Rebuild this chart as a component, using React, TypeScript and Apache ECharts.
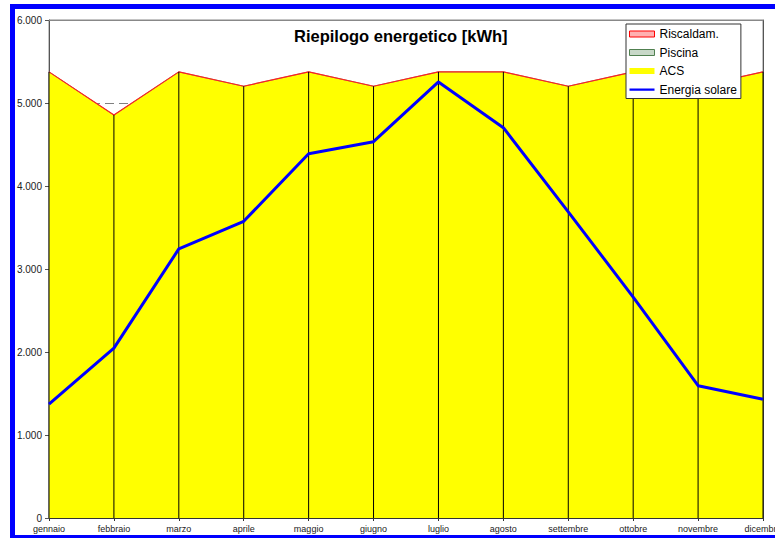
import React, { useEffect, useRef } from "react";
import * as echarts from "echarts";

const months = ["gennaio", "febbraio", "marzo", "aprile", "maggio", "giugno", "luglio", "agosto", "settembre", "ottobre", "novembre", "dicembre"];
const acs = [5375, 4855, 5375, 5202, 5375, 5202, 5375, 5375, 5202, 5375, 5202, 5375];
const piscina = [0, 0, 0, 0, 0, 0, 0, 0, 0, 0, 0, 0];
const riscaldam = [0, 0, 0, 0, 0, 0, 0, 0, 0, 0, 0, 0];
const energiaSolare = [1373, 2046, 3242, 3575, 4389, 4534, 5254, 4703, 3688, 2662, 1594, 1430];
const yTicks = { min: 0, max: 6000, interval: 1000 };

const FONT = "'Liberation Sans', Arial, sans-serif";

export default function App() {
  const ref = useRef<HTMLDivElement>(null);
  useEffect(() => {
    if (!ref.current) return;
    const chart = echarts.init(ref.current, undefined, { renderer: "svg" });
    const totals = acs.map((v, i) => v + piscina[i] + riscaldam[i]);
    chart.setOption({
      animation: false,
      backgroundColor: "#ffffff",
      textStyle: { fontFamily: FONT },
      title: {
        text: "Riepilogo energetico [kWh]",
        left: 294,
        top: 27,
        padding: 0,
        textStyle: { fontFamily: FONT, fontSize: 16.5, fontWeight: "bold", color: "#000" },
      },
      legend: {
        orient: "vertical",
        left: 626,
        top: 24,
        padding: [3, 4, 2, 3],
        itemGap: 4.5,
        itemWidth: 25,
        itemHeight: 6,
        backgroundColor: "#ffffff",
        borderColor: "#333333",
        borderWidth: 1,
        z: 10,
        textStyle: { fontFamily: FONT, fontSize: 12, color: "#000", lineHeight: 14 },
        data: [
          { name: "Riscaldam.", icon: "rect", itemStyle: { color: "#FFB0B0", borderColor: "#FF0000", borderWidth: 1 } },
          { name: "Piscina", icon: "rect", itemStyle: { color: "#C8D8C8", borderColor: "#508050", borderWidth: 1 } },
          { name: "ACS", icon: "rect", itemStyle: { color: "#FFFF00", borderColor: "#FFFF00", borderWidth: 0 } },
          {
            name: "Energia solare",
            icon: "path://M0,0 L0.01,0 L0.01,0.01 Z M0,2 L25,2 L25,4.3 L0,4.3 Z M25,6 L24.99,6 L24.99,5.99 Z",
            itemStyle: { color: "#0000FF", borderWidth: 0 },
          },
        ],
      },
      grid: {
        left: 49,
        top: 20,
        width: 714,
        height: 498,
        show: true,
        containLabel: false,
        outerBoundsMode: "none",
        backgroundColor: "#ffffff",
        borderColor: "#888888",
        borderWidth: 1,
      },
      xAxis: [
        {
          type: "category",
          data: months,
          boundaryGap: false,
          axisLine: { lineStyle: { color: "#333333", width: 1 } },
          axisTick: { show: true, length: 3, lineStyle: { color: "#333333" } },
          axisLabel: { fontFamily: FONT, fontSize: 9, color: "#222", margin: 6, interval: 0, hideOverlap: false },
          splitLine: { show: false },
        },
        {
          type: "category",
          data: months,
          position: "top",
          boundaryGap: false,
          axisLine: { show: true, onZero: false, lineStyle: { color: "#888888", width: 1 } },
          axisTick: { show: false },
          axisLabel: { show: false },
          splitLine: { show: false },
        },
      ],
      yAxis: [
        {
          type: "value",
          min: yTicks.min,
          max: yTicks.max,
          interval: yTicks.interval,
          axisLine: { show: true, lineStyle: { color: "#555555", width: 1 } },
          axisTick: { show: true, length: 4, lineStyle: { color: "#555555" } },
          axisLabel: {
            fontFamily: FONT,
            fontSize: 10,
            color: "#222",
            margin: 7,
            formatter: (v: number) => (v === 0 ? "0" : `${Math.floor(v / 1000)}.${String(v % 1000).padStart(3, "0")}`),
          },
          splitLine: { show: true, lineStyle: { color: "#808080", width: 1, type: [9, 5] } },
        },
        {
          type: "value",
          position: "right",
          min: yTicks.min,
          max: yTicks.max,
          interval: yTicks.interval,
          axisLine: { show: true, onZero: false, lineStyle: { color: "#555555", width: 1 } },
          axisTick: { show: false },
          axisLabel: { show: false },
          splitLine: { show: false },
        },
      ],
      series: [
        {
          name: "ACS",
          type: "line",
          stack: "tot",
          data: acs,
          showSymbol: false,
          symbol: "none",
          z: 2,
          lineStyle: { color: "#FFFF00", width: 0 },
          itemStyle: { color: "#FFFF00" },
          areaStyle: { color: "#FFFF00", opacity: 1 },
        },
        {
          name: "Piscina",
          type: "line",
          stack: "tot",
          data: piscina,
          showSymbol: false,
          symbol: "none",
          z: 2,
          lineStyle: { color: "#7A9A7A", width: 1 },
          itemStyle: { color: "#C8D8C8" },
          areaStyle: { color: "#C8D8C8", opacity: 1 },
        },
        {
          name: "Riscaldam.",
          type: "line",
          stack: "tot",
          data: riscaldam,
          showSymbol: false,
          symbol: "none",
          z: 2,
          lineStyle: { color: "#FF2020", width: 1.2 },
          itemStyle: { color: "#FFB0B0" },
          areaStyle: { color: "#FFB0B0", opacity: 1 },
        },
        {
          name: "drop",
          type: "custom",
          silent: true,
          z: 3,
          clip: false,
          data: totals.map((v, i) => [i, v]),
          encode: { x: 0, y: 1 },
          renderItem: (params: any, api: any) => {
            const i = api.value(0);
            const top = api.value(1);
            const p0 = api.coord([i, 0]);
            const p1 = api.coord([i, top]);
            return {
              type: "line",
              shape: { x1: p0[0], y1: p0[1], x2: p1[0], y2: p1[1] },
              style: { stroke: "#000000", lineWidth: 1 },
            };
          },
        },
        {
          name: "Energia solare",
          type: "line",
          data: energiaSolare,
          showSymbol: false,
          symbol: "none",
          z: 4,
          lineStyle: { color: "#0000FF", width: 3 },
          itemStyle: { color: "#0000FF" },
        },
      ],
      graphic: [
        {
          type: "rect",
          shape: { x: 12.5, y: 6.5, width: 800, height: 531 },
          style: { fill: "none", stroke: "#0000FF", lineWidth: 5 },
          silent: true,
          z: 20,
        },
      ],
    });
    return () => chart.dispose();
  }, []);
  return <div ref={ref} style={{ position: "absolute", left: 0, top: 0, width: 775, height: 538 }} />;
}
